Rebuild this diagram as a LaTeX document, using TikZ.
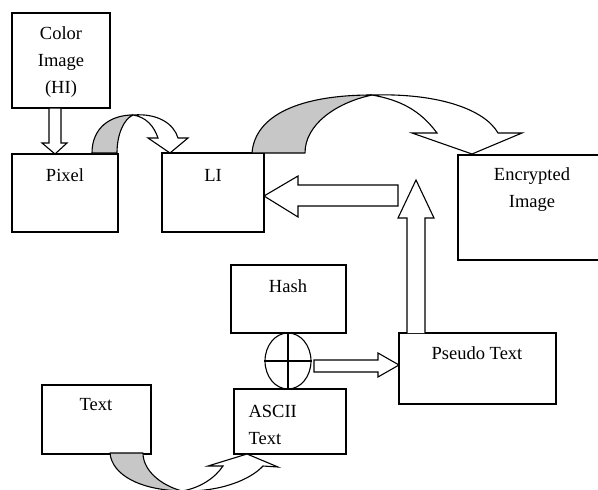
\documentclass[tikz,border=0pt]{standalone}
\usepackage{fontspec}
\setmainfont{Liberation Serif}
\usepackage{tikz}
\usetikzlibrary{calc}
\usetikzlibrary{positioning}
\usetikzlibrary{shapes}

\begin{document}
\begin{tikzpicture}[x=1pt, y=-1pt, line width=1.1pt,
		box/.style={draw, rectangle, inner sep=0pt},
		txt/.style={align=center, inner sep=0pt, font=\fontsize{18.5}{27}\selectfont},
		blockarrow/.style={draw, fill=white, line join=miter},
		backface/.style={draw, fill=black!22, line join=round},
		frontface/.style={draw, fill=white, line join=miter}]
		\useasboundingbox (0,0) rectangle (598,490);
		\clip (0,0) rectangle (598,490);

		% boxes
		\node[box, minimum width=98, minimum height=95] (color) at (61,60.5) {};
		\node[box, minimum width=106, minimum height=78] (pixel) at (65,193) {};
		\node[box, minimum width=102, minimum height=79] (li) at (213,192.5) {};
		\node[box, minimum width=150, minimum height=105] (enc) at (533,207.5) {};
		\node[box, minimum width=115, minimum height=68] (hash) at (288.5,299) {};
		\node[box, minimum width=112, minimum height=65] (ascii) at (290,421.5) {};
		\node[box, minimum width=109, minimum height=69] (text) at (96.5,419.5) {};
		\node[box, minimum width=157, minimum height=71] (pseudo) at (477.5,368.5) {};
		\node[draw, ellipse, inner sep=0pt, minimum width=46, minimum height=56] (xor) at (288,361) {};
		\draw (xor.north) -- (xor.south);
		\draw (xor.west) -- (xor.east);

		% labels
		\node[txt] (colortext) at (61,62) {Color\\Image\\(HI)};
		\node[txt] (pixeltext) at (65,175) {Pixel};
		\node[txt] (litext) at (213,175) {LI};
		\node[txt] (enctext) at (532,190) {Encrypted\\Image};
		\node[txt] (hashtext) at (288,286) {Hash};
		\node[txt, align=left, anchor=west] (asciitext) at (248,425) {ASCII\\Text};
		\node[txt] (texttext) at (96,405) {Text};
		\node[txt] (pseudotext) at (477,353) {Pseudo Text};

		% block arrows
		\draw[blockarrow] (49,108) -- (61,108) -- (61,143) -- (67,143) -- (55,154)
			-- (42,143) -- (49,143) -- cycle;
		\draw[blockarrow] (398,185) -- (298,185) -- (298,176) -- (264,196)
			-- (298,217) -- (298,206) -- (398,206) -- cycle;
		\draw[blockarrow] (407,333) -- (407,218) -- (398,218) -- (416,180)
			-- (434,218) -- (425,218) -- (425,333);
		\draw[blockarrow] (314,360) -- (378,360) -- (378,353) -- (399,365)
			-- (378,377) -- (378,372) -- (314,372) -- cycle;

		% curved arrow pixel -> li
		\draw[backface] (92,153) .. controls (92,128) and (110,115) .. (133,115)
			.. controls (124,119) and (117,134) .. (117,153) -- cycle;
		\draw[frontface] (133,115) .. controls (158,113) and (174,124) .. (178,138)
			-- (188,138) -- (170,153) -- (148,138) -- (158,138)
			.. controls (154,126) and (146,117) .. (133,115) -- cycle;

		% curved arrow li -> enc
		\draw[backface] (252,153) .. controls (255,115) and (300,95) .. (372,95)
			.. controls (335,103) and (305,125) .. (305,153) -- cycle;
		\draw[frontface] (372,95) .. controls (440,93) and (485,110) .. (498,133)
			-- (522,133) -- (472,154) -- (412,133) -- (437,133)
			.. controls (420,110) and (400,100) .. (372,95) -- cycle;

		% curved arrow text -> ascii
		\draw[backface] (110,453) .. controls (112,475) and (140,490) .. (182,491)
			.. controls (160,485) and (143,470) .. (143,453) -- cycle;
		\draw[frontface] (182,491) .. controls (220,492) and (250,480) .. (263,466)
			-- (278,467) -- (247,454) -- (208,466) -- (223,466)
			.. controls (215,478) and (200,488) .. (182,491) -- cycle;
\end{tikzpicture}
\end{document}
